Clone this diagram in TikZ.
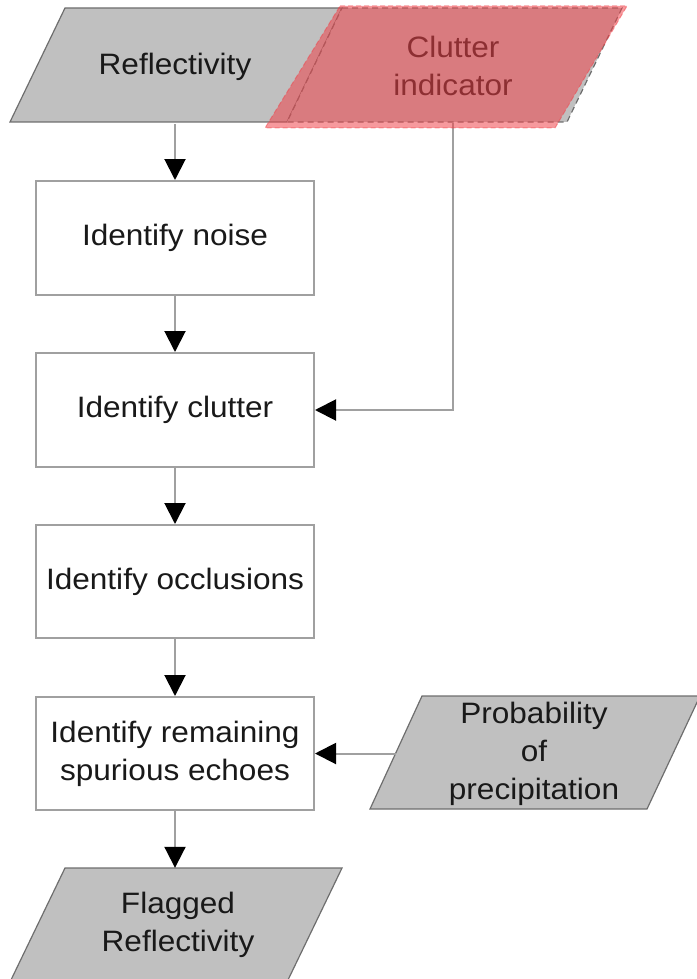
\documentclass[tikz,border=0pt]{standalone}
\usepackage{fontspec}
\setmainfont[FakeStretch=1.07]{Liberation Sans}
\usetikzlibrary{arrows.meta}
\definecolor{boxgray}{RGB}{192,192,192}
\definecolor{linegray}{RGB}{160,160,160}
\definecolor{edgegray}{RGB}{110,110,110}
\definecolor{overlayred}{RGB}{240,66,73}
\definecolor{txtcol}{RGB}{25,25,25}
\begin{document}
\begin{tikzpicture}[x=1pt,y=-1pt,
  lbl/.style={font=\fontsize{29.5}{38}\selectfont, align=center, inner sep=0pt, text=txtcol},
  procbox/.style={lbl, draw=linegray, line width=2pt, fill=white, minimum width=278pt, minimum height=114pt},
  iolabel/.style={lbl, minimum width=276pt, minimum height=114pt},
  iofill/.style={fill=boxgray, draw=edgegray, line width=1.2pt},
  flow/.style={draw=linegray, line width=2pt, -{Triangle[width=21pt,length=21pt,color=black]}},
]
\useasboundingbox (0,0) rectangle (696,979);

% input / output parallelograms
\draw[iofill] (65,8) -- (342,8) -- (287,122) -- (10,122) -- cycle;
\draw[fill=boxgray, draw=edgegray, line width=1.2pt, dash pattern=on 6pt off 4pt] (342,8) -- (622,8) -- (567,122) -- (287,122) -- cycle;
\draw[iofill] (422,696) -- (700,696) -- (647,809) -- (370,809) -- cycle;
\draw[iofill] (65,868) -- (342,868) -- (287,982) -- (10,982) -- cycle;

\node[iolabel] (refl) at (175,67) {Reflectivity};
\node[iolabel] (clut) at (453,66) {Clutter\\indicator};
\node[iolabel] (prob) at (534,753.5) {Probability\\of\\precipitation};
\node[iolabel] (flag) at (178,925) {Flagged\\Reflectivity};

% process boxes
\node[procbox] (noise) at (175,238) {Identify noise};
\node[procbox] (clutter) at (175,410) {Identify clutter};
\node[procbox, minimum height=113pt] (occl) at (175,581.5) {Identify occlusions};
\node[procbox, minimum height=113pt] (rem) at (175,753.5) {Identify remaining\\spurious echoes};

% connectors
\draw[flow] (clut.south) |- (clutter.east);
\draw[flow] (refl.south -| noise.north) -- (noise.north);
\draw[flow] (noise.south) -- (clutter.north);
\draw[flow] (clutter.south) -- (occl.north);
\draw[flow] (occl.south) -- (rem.north);
\draw[flow] (prob.west) -- (rem.east);
\draw[flow] (rem.south) -- (rem.south |- flag.north);

% red highlight overlay
\draw[fill=overlayred, fill opacity=0.54, draw=overlayred, draw opacity=0.5, line width=1pt, dash pattern=on 5pt off 3pt]
  (340,6) -- (627,6) -- (555,128) -- (265,128) -- cycle;
\end{tikzpicture}
\end{document}
